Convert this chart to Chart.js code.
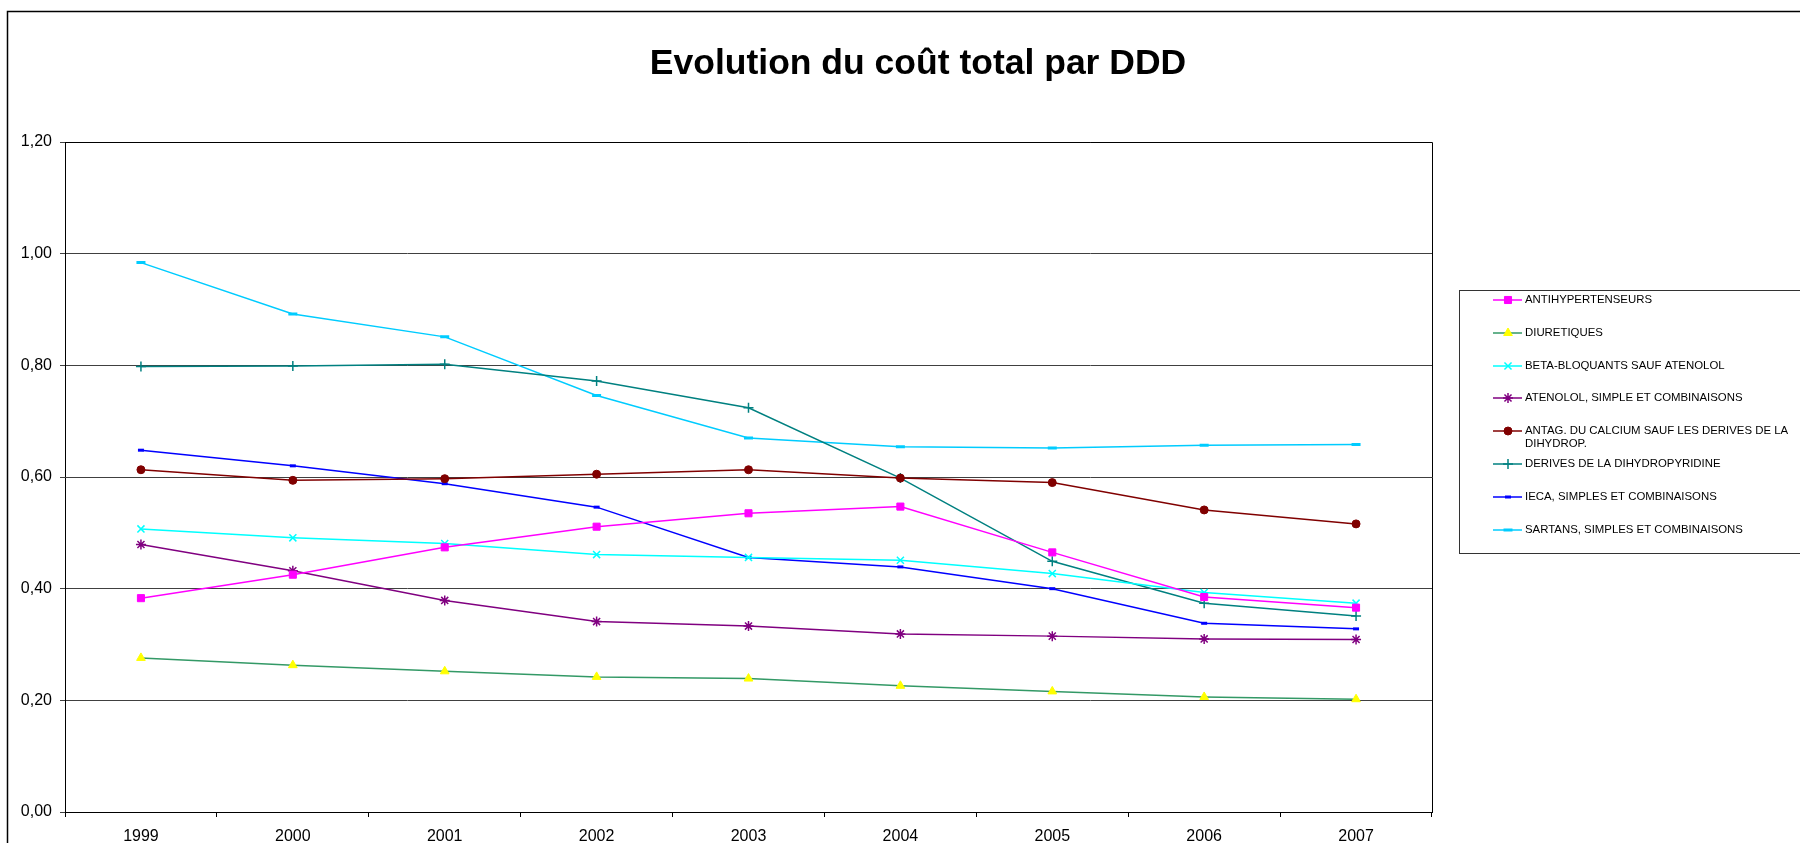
<!DOCTYPE html>
<html>
<head>
<meta charset="utf-8">
<title>Evolution du coût total par DDD</title>
<script src="https://cdn.jsdelivr.net/npm/chart.js@4.4.0/dist/chart.umd.min.js"></script>
<style>
  html, body { margin: 0; padding: 0; background: #fff; }
  #wrap { width: 1800px; height: 843px; }
</style>
</head>
<body>
<div id="wrap"><canvas id="chart" width="1800" height="843"></canvas></div>
<script>
// data
const years = ['1999', '2000', '2001', '2002', '2003', '2004', '2005', '2006', '2007'];
const yTickLabels = ['0,00', '0,20', '0,40', '0,60', '0,80', '1,00', '1,20'];

const antihypertenseurs = [0.383, 0.425, 0.474, 0.511, 0.535, 0.547, 0.465, 0.385, 0.366];
const diuretiques = [0.276, 0.263, 0.252, 0.242, 0.239, 0.226, 0.216, 0.206, 0.202];
const betaBloquants = [0.507, 0.491, 0.481, 0.461, 0.456, 0.451, 0.427, 0.393, 0.374];
const atenolol = [0.479, 0.432, 0.379, 0.341, 0.333, 0.319, 0.315, 0.310, 0.309];
const antagCalcium = [0.613, 0.594, 0.597, 0.605, 0.613, 0.598, 0.590, 0.541, 0.516];
const derivesDihydro = [0.798, 0.799, 0.802, 0.772, 0.724, 0.598, 0.449, 0.374, 0.351];
const ieca = [0.648, 0.620, 0.588, 0.546, 0.456, 0.439, 0.400, 0.338, 0.328];
const sartans = [0.984, 0.892, 0.851, 0.746, 0.670, 0.654, 0.652, 0.657, 0.658];

const seriesLabels = [
    'ANTIHYPERTENSEURS',
    'DIURETIQUES',
    'BETA-BLOQUANTS SAUF ATENOLOL',
    'ATENOLOL, SIMPLE ET COMBINAISONS',
    'ANTAG. DU CALCIUM SAUF LES DERIVES DE LA DIHYDROP.',
    'DERIVES DE LA DIHYDROPYRIDINE',
    'IECA, SIMPLES ET COMBINAISONS',
    'SARTANS, SIMPLES ET COMBINAISONS'
];
// legend text as it wraps in the reference
const legendLines = [
    ['ANTIHYPERTENSEURS'],
    ['DIURETIQUES'],
    ['BETA-BLOQUANTS SAUF ATENOLOL'],
    ['ATENOLOL, SIMPLE ET COMBINAISONS'],
    ['ANTAG. DU CALCIUM SAUF LES DERIVES DE LA', 'DIHYDROP.'],
    ['DERIVES DE LA DIHYDROPYRIDINE'],
    ['IECA, SIMPLES ET COMBINAISONS'],
    ['SARTANS, SIMPLES ET COMBINAISONS']
];

const FONT = '"Liberation Sans", Arial, Helvetica, sans-serif';

const makeSet = (label, data, line, fill, stroke, style, radius, bw) => ({
    label: label,
    data: data,
    borderColor: line,
    borderWidth: 1.5,
    backgroundColor: line,
    pointStyle: style,
    pointRadius: radius,
    pointHoverRadius: radius,
    pointBackgroundColor: fill,
    pointBorderColor: stroke,
    pointBorderWidth: bw,
    tension: 0,
    fill: false
});

const datasets = [
    makeSet(seriesLabels[0], antihypertenseurs, '#FF00FF', '#FF00FF', '#FF00FF', 'rect', 5, 1),
    makeSet(seriesLabels[1], diuretiques, '#339966', '#FFFF00', '#FFFF00', 'triangle', 5, 1),
    makeSet(seriesLabels[2], betaBloquants, '#00FFFF', '#00FFFF', '#00FFFF', 'crossRot', 5, 1.5),
    makeSet(seriesLabels[3], atenolol, '#800080', '#800080', '#800080', 'star', 5, 1.5),
    makeSet(seriesLabels[4], antagCalcium, '#800000', '#800000', '#800000', 'circle', 4, 1),
    makeSet(seriesLabels[5], derivesDihydro, '#008080', '#008080', '#008080', 'cross', 5, 1.5),
    makeSet(seriesLabels[6], ieca, '#0000FF', '#0000FF', '#0000FF', 'line', 3, 3),
    makeSet(seriesLabels[7], sartans, '#00CCFF', '#00CCFF', '#00CCFF', 'line', 4.5, 3)
];

// title, outer frame, plot frame and the boxed legend
const decor = {
    id: 'decor',
    beforeDraw(chart) {
        const ctx = chart.ctx;
        ctx.save();
        ctx.fillStyle = '#fff';
        ctx.fillRect(0, 0, chart.width, chart.height);
        ctx.strokeStyle = '#000';
        ctx.lineWidth = 1.5;
        ctx.strokeRect(7.5, 11.5, chart.width + 20, chart.height + 20);
        ctx.fillStyle = '#000';
        ctx.font = 'bold 35.5px ' + FONT;
        ctx.textAlign = 'center';
        ctx.textBaseline = 'alphabetic';
        ctx.fillText('Evolution du coût total par DDD', 918, 74);
        ctx.restore();
    },
    afterDraw(chart) {
        const ctx = chart.ctx;
        const a = chart.chartArea;
        ctx.save();
        ctx.strokeStyle = '#000';
        ctx.lineWidth = 1;
        ctx.beginPath();
        ctx.moveTo(a.left, Math.round(a.top) + 0.5);
        ctx.lineTo(Math.round(a.right) + 0.5, Math.round(a.top) + 0.5);
        ctx.lineTo(Math.round(a.right) + 0.5, a.bottom);
        ctx.stroke();

        // legend box
        ctx.strokeStyle = '#333';
        ctx.strokeRect(1459.5, 290.5, 400, 263);
        const rows = [300, 333, 366, 398, 431, 464, 497, 530];
        ctx.font = '11.4px ' + FONT;
        ctx.textAlign = 'left';
        ctx.textBaseline = 'middle';
        chart.data.datasets.forEach((ds, i) => {
            const y = rows[i];
            ctx.strokeStyle = ds.borderColor;
            ctx.lineWidth = 1.5;
            ctx.beginPath();
            ctx.moveTo(1493, y);
            ctx.lineTo(1522, y);
            ctx.stroke();
            ctx.fillStyle = ds.pointBackgroundColor;
            ctx.strokeStyle = ds.pointBorderColor;
            ctx.lineWidth = ds.pointBorderWidth;
            Chart.helpers.drawPoint(ctx, {
                pointStyle: ds.pointStyle,
                radius: ds.pointRadius,
                borderWidth: ds.pointBorderWidth,
                rotation: 0
            }, 1508, y);
            ctx.fillStyle = '#000';
            legendLines[i].forEach((t, k) => ctx.fillText(t, 1525, y + k * 13));
        });
        ctx.restore();
    }
};

new Chart(document.getElementById('chart'), {
    type: 'line',
    data: { labels: years, datasets: datasets },
    plugins: [decor],
    options: {
        responsive: false,
        animation: false,
        devicePixelRatio: 1,
        layout: { padding: { top: 142, right: 368, bottom: 0, left: 0 } },
        plugins: {
            legend: { display: false },
            title: { display: false },
            tooltip: { enabled: false }
        },
        scales: {
            x: {
                offset: true,
                grid: { offset: true, drawOnChartArea: false, drawTicks: true, tickLength: 5, color: '#000' },
                border: { color: '#000', width: 1 },
                ticks: { color: '#000', font: { family: FONT, size: 16 }, padding: 10, maxRotation: 0, autoSkip: false },
                afterFit(scale) { scale.height = 31; }
            },
            y: {
                min: 0,
                max: 1.2,
                grid: { color: '#404040', tickLength: 5, lineWidth: 1 },
                border: { color: '#000', width: 1 },
                ticks: {
                    stepSize: 0.2,
                    color: '#000',
                    font: { family: FONT, size: 16 },
                    padding: 8,
                    callback: (v, i) => yTickLabels[i]
                },
                afterFit(scale) { scale.width = 65; }
            }
        }
    }
});
</script>
</body>
</html>
